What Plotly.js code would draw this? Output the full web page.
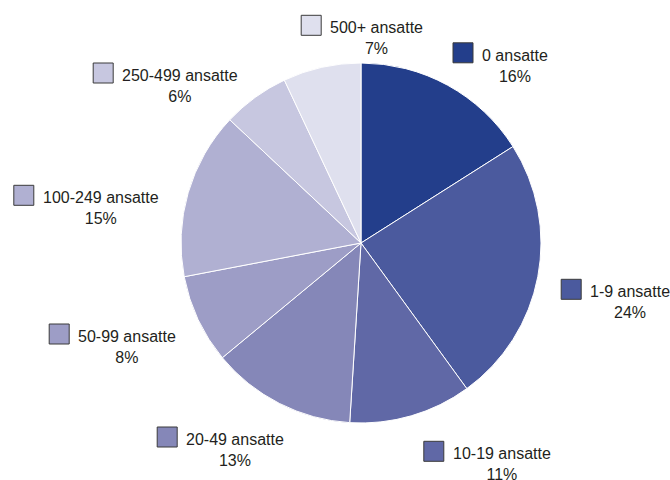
<!DOCTYPE html>
<html>
<head>
<meta charset="utf-8">
<script src="https://cdn.plot.ly/plotly-3.0.1.min.js"></script>
<style>
  html, body { margin: 0; padding: 0; background: #ffffff; }
  #chart { width: 670px; height: 480px; }
</style>
</head>
<body>
<div id="chart"></div>
<script>
// ---- data ----
const categories = ["0 ansatte", "1-9 ansatte", "10-19 ansatte", "20-49 ansatte",
                    "50-99 ansatte", "100-249 ansatte", "250-499 ansatte", "500+ ansatte"];
const shares = [16, 24, 11, 13, 8, 15, 6, 7];

// ---- styling ----
const sliceColors = ["#233e8b", "#4b5a9e", "#6068a6", "#8587b8",
                     "#9d9dc6", "#b0b0d2", "#c7c7e0", "#dfe0ee"];
// label anchor (pixel) positions: left edge of text, first-line centre y
const labelLeft = [482.5, 590.7, 453.3, 186.7, 78.7, 43.3, 122.7, 330.7];
const labelLine1Y = [55.8, 292.3, 454.3, 440, 337, 198.3, 76, 28.3];

const W = 670, H = 480;
const cx = 361, cy = 243, r = 180;

const trace = {
  type: "pie",
  labels: categories,
  values: shares,
  sort: false,
  direction: "clockwise",
  rotation: 0,
  textinfo: "none",
  hoverinfo: "label+percent",
  marker: { colors: sliceColors, line: { color: "#ffffff", width: 1 } },
  domain: { x: [(cx - r) / W, (cx + r) / W], y: [1 - (cy + r) / H, 1 - (cy - r) / H] },
  showlegend: false
};

const font = { family: "Liberation Sans, Arial, sans-serif", size: 16, color: "#231f20" };
const lineGap = 20;
const textPad = 2.5;
const annotations = [];
const shapes = [];
categories.forEach((c, i) => {
  const midY = labelLine1Y[i] + lineGap / 2;
  annotations.push({
    xref: "paper", yref: "paper",
    x: (labelLeft[i] - textPad) / W, y: 1 - midY / H,
    xanchor: "left", yanchor: "middle",
    align: "center",
    text: c + "<br>" + shares[i] + "%",
    showarrow: false,
    font: font
  });
  const sx = labelLeft[i] - 29.5, sy = labelLine1Y[i] - 13, s = 20;
  shapes.push({
    type: "rect", xref: "paper", yref: "paper",
    x0: sx / W, x1: (sx + s) / W, y0: 1 - (sy + s) / H, y1: 1 - sy / H,
    fillcolor: sliceColors[i], line: { color: "#3a3a3a", width: 1 }
  });
});

const layout = {
  width: W, height: H,
  margin: { l: 0, r: 0, t: 0, b: 0 },
  paper_bgcolor: "#ffffff",
  plot_bgcolor: "#ffffff",
  annotations: annotations,
  shapes: shapes,
  font: font
};

Plotly.newPlot("chart", [trace], layout, { staticPlot: true });
</script>
</body>
</html>
